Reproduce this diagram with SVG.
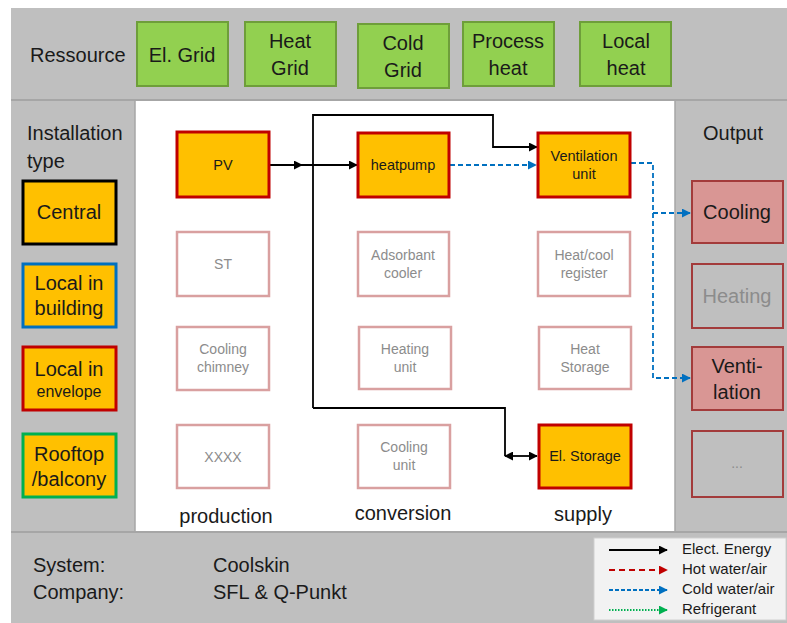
<svg xmlns="http://www.w3.org/2000/svg" width="787" height="623" viewBox="0 0 787 623">
<style>
text{font-family:"Liberation Sans",Arial,sans-serif;fill:#1a1a1a}
.lbl{font-size:20px}
.c{text-anchor:middle}
.res{fill:#92D050;stroke:#6E9E3A;stroke-width:2}
.inst{fill:#FFC000;stroke-width:3}
.act{fill:#FFC000;stroke:#C00000;stroke-width:3}
.fade{fill:#fff;stroke:#D9A0A0;stroke-width:2.5}
.ft{font-size:14px;fill:#8C8C8C}
.at{font-size:14.5px;fill:#1a1a1a}
.outA{fill:#D99694;stroke:#A33B3B;stroke-width:2}
.outB{fill:none;stroke:#A33B3B;stroke-width:2}
.blk{fill:none;stroke:#000;stroke-width:1.8}
.blu{fill:none;stroke:#0070C0;stroke-width:1.8;stroke-dasharray:5,3}
.lg{font-size:15px}
</style>
<defs>
<marker id="ab" viewBox="0 0 10 10" refX="9" refY="5" markerWidth="5" markerHeight="5" orient="auto-start-reverse"><path d="M0,0 L10,5 L0,10 z" fill="#000"/></marker>
<marker id="au" viewBox="0 0 10 10" refX="9" refY="5" markerWidth="5" markerHeight="5" orient="auto"><path d="M0,0 L10,5 L0,10 z" fill="#0070C0"/></marker>
<marker id="ar" viewBox="0 0 10 10" refX="9" refY="5" markerWidth="5" markerHeight="5" orient="auto"><path d="M0,0 L10,5 L0,10 z" fill="#C00000"/></marker>
<marker id="ag" viewBox="0 0 10 10" refX="9" refY="5" markerWidth="5" markerHeight="5" orient="auto"><path d="M0,0 L10,5 L0,10 z" fill="#00B050"/></marker>
</defs>
<rect width="787" height="623" fill="#fff"/>
<g id="background">
<rect x="11" y="8" width="776" height="615" fill="#BFBFBF"/>
<rect x="135" y="100" width="540" height="432" fill="#fff"/>
<line x1="11" y1="100" x2="787" y2="100" stroke="#A6A6A6" stroke-width="2"/>
<line x1="11" y1="532" x2="787" y2="532" stroke="#A6A6A6" stroke-width="2"/>
<line x1="135" y1="100" x2="135" y2="532" stroke="#A6A6A6" stroke-width="1.5"/>
<line x1="675" y1="100" x2="675" y2="532" stroke="#A6A6A6" stroke-width="1.5"/>
</g>
<g id="ressource">
<text class="lbl" x="30" y="62">Ressource</text>
<g id="res-elgrid"><rect class="res" x="137" y="22" width="91" height="64"/><text class="lbl c" x="182" y="62">El. Grid</text></g>
<g id="res-heatgrid"><rect class="res" x="245" y="22" width="91" height="64"/><text class="lbl c" x="290" y="48">Heat</text><text class="lbl c" x="290" y="75">Grid</text></g>
<g id="res-coldgrid"><rect class="res" x="358" y="24" width="91" height="64"/><text class="lbl c" x="403" y="50">Cold</text><text class="lbl c" x="403" y="77">Grid</text></g>
<g id="res-processheat"><rect class="res" x="463" y="22" width="91" height="64"/><text class="lbl c" x="508" y="48">Process</text><text class="lbl c" x="508" y="75">heat</text></g>
<g id="res-localheat"><rect class="res" x="580" y="22" width="91" height="64"/><text class="lbl c" x="626" y="48">Local</text><text class="lbl c" x="626" y="75">heat</text></g>
</g>
<g id="installation">
<text class="lbl" x="27" y="140">Installation</text>
<text class="lbl" x="27" y="168">type</text>
<g id="inst-central"><rect class="inst" x="23" y="181" width="93" height="63" stroke="#000"/><text class="lbl c" x="69" y="219">Central</text></g>
<g id="inst-building"><rect class="inst" x="23" y="264" width="93" height="63" stroke="#0070C0"/><text class="lbl c" x="69" y="290">Local in</text><text class="lbl c" x="69" y="315">building</text></g>
<g id="inst-envelope"><rect class="inst" x="23" y="347" width="93" height="63" stroke="#C00000"/><text class="lbl c" x="69" y="376">Local in</text><text class="c" style="font-size:16px" x="69" y="397">envelope</text></g>
<g id="inst-rooftop"><rect class="inst" x="23" y="434" width="93" height="63" stroke="#00B050"/><text class="lbl c" x="69" y="461">Rooftop</text><text class="lbl c" x="69" y="486">/balcony</text></g>
</g>
<g id="connectors">
<path class="blk" d="M269,165 H302" marker-end="url(#ab)"/>
<path class="blk" d="M302,165 H357" marker-end="url(#ab)"/>
<path class="blk" d="M313,408 V115 H493 V147 H537" marker-end="url(#ab)"/>
<path class="blk" d="M313,408 H505 V456"/>
<path class="blk" d="M505,456 H537" marker-start="url(#ab)" marker-end="url(#ab)"/>
<path class="blu" d="M450,165 H536" marker-end="url(#au)"/>
<path class="blu" d="M631,163 H653 V378 H690" marker-end="url(#au)"/>
<path class="blu" d="M653,213 H690" marker-end="url(#au)"/>
</g>
<g id="production">
<g id="n-pv"><rect class="act" x="177" y="132" width="92" height="65"/><text class="at c" x="223" y="170">PV</text></g>
<g id="n-st"><rect class="fade" x="177" y="232" width="92" height="64"/><text class="ft c" x="223" y="269">ST</text></g>
<g id="n-chimney"><rect class="fade" x="177" y="327" width="92" height="63"/><text class="ft c" x="223" y="354">Cooling</text><text class="ft c" x="223" y="372">chimney</text></g>
<g id="n-xxxx"><rect class="fade" x="177" y="425" width="92" height="63"/><text class="ft c" x="223" y="462">XXXX</text></g>
<text class="lbl c" x="226" y="523">production</text>
</g>
<g id="conversion">
<g id="n-heatpump"><rect class="act" x="358" y="133" width="91" height="64"/><text class="at c" x="403" y="170">heatpump</text></g>
<g id="n-adsorbant"><rect class="fade" x="358" y="232" width="91" height="64"/><text class="ft c" x="403" y="260">Adsorbant</text><text class="ft c" x="403" y="278">cooler</text></g>
<g id="n-heating"><rect class="fade" x="359" y="327" width="92" height="62"/><text class="ft c" x="405" y="354">Heating</text><text class="ft c" x="405" y="372">unit</text></g>
<g id="n-cooling"><rect class="fade" x="358" y="425" width="92" height="63"/><text class="ft c" x="404" y="452">Cooling</text><text class="ft c" x="404" y="470">unit</text></g>
<text class="lbl c" x="403" y="520">conversion</text>
</g>
<g id="supply">
<g id="n-ventilation"><rect class="act" x="538" y="133" width="92" height="64"/><text class="at c" x="584" y="161">Ventilation</text><text class="at c" x="584" y="179">unit</text></g>
<g id="n-register"><rect class="fade" x="538" y="232" width="92" height="64"/><text class="ft c" x="584" y="260">Heat/cool</text><text class="ft c" x="584" y="278">register</text></g>
<g id="n-heatstorage"><rect class="fade" x="539" y="327" width="92" height="62"/><text class="ft c" x="585" y="354">Heat</text><text class="ft c" x="585" y="372">Storage</text></g>
<g id="n-elstorage"><rect class="act" x="539" y="425" width="92" height="63"/><text class="at c" x="585" y="461">El. Storage</text></g>
<text class="lbl c" x="583" y="521">supply</text>
</g>
<g id="output">
<text class="lbl c" x="733" y="140">Output</text>
<g id="o-cooling"><rect class="outA" x="692" y="181" width="91" height="62"/><text class="lbl c" x="737" y="219">Cooling</text></g>
<g id="o-heating"><rect class="outB" x="692" y="264" width="91" height="64"/><text class="lbl c" x="737" y="303" style="fill:#8C8C8C">Heating</text></g>
<g id="o-ventilation"><rect class="outA" x="692" y="347" width="91" height="63"/><text class="lbl c" x="737" y="373">Venti-</text><text class="lbl c" x="737" y="399">lation</text></g>
<g id="o-more"><rect class="outB" x="692" y="431" width="91" height="66"/><text class="c" style="font-size:14px;fill:#8C8C8C" x="737" y="468">...</text></g>
</g>
<g id="info">
<text class="lbl" x="33" y="572">System:</text>
<text class="lbl" x="213" y="572">Coolskin</text>
<text class="lbl" x="33" y="599">Company:</text>
<text class="lbl" x="213" y="599">SFL &amp; Q-Punkt</text>
</g>
<g id="legend">
<rect x="594" y="538" width="192" height="82" fill="#F2F2F2" stroke="#D0D0D0"/>
<path d="M609,550 H667" stroke="#000" stroke-width="1.8" fill="none" marker-end="url(#ab)"/>
<path d="M609,570 H667" stroke="#C00000" stroke-width="1.8" fill="none" stroke-dasharray="6,4" marker-end="url(#ar)"/>
<path d="M609,590 H667" stroke="#0070C0" stroke-width="1.8" fill="none" stroke-dasharray="4,2" marker-end="url(#au)"/>
<path d="M609,610 H667" stroke="#00B050" stroke-width="1.8" fill="none" stroke-dasharray="1.5,1.5" marker-end="url(#ag)"/>
<text class="lg" x="682" y="554">Elect. Energy</text>
<text class="lg" x="682" y="574">Hot water/air</text>
<text class="lg" x="682" y="594">Cold water/air</text>
<text class="lg" x="682" y="614">Refrigerant</text>
</g>
</svg>
